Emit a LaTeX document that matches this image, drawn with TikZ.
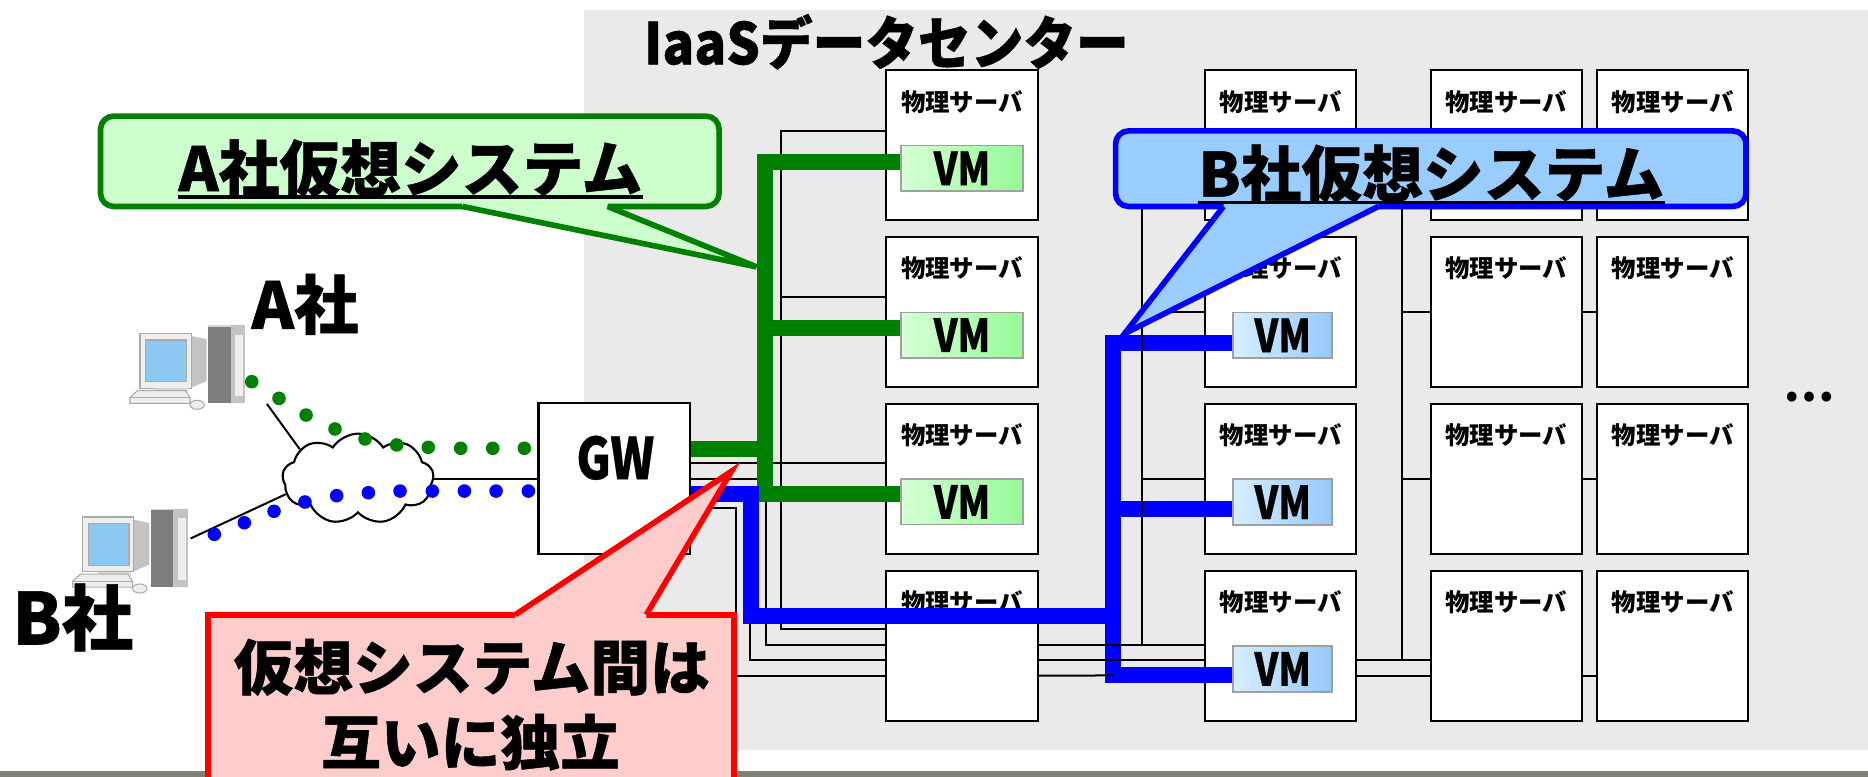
\documentclass[tikz,border=0pt]{standalone}
\usepackage{fontspec}
\setmainfont{Noto Sans CJK JP}
\newfontfamily\narrowfont{Noto Sans CJK JP}[FakeStretch=0.82, FakeBold=0.6]
\newfontfamily\heavyfont{Noto Sans CJK JP}[FakeBold=0.8]
\newfontfamily\titlefont{Noto Sans CJK JP}[FakeStretch=0.92, FakeBold=0.8]
\usetikzlibrary{shapes.symbols,backgrounds}

\newlength\pxl
\setlength\pxl{0.011913cm}

\definecolor{dcgrey}{RGB}{234,234,234}
\definecolor{footgrey}{RGB}{128,128,115}
\definecolor{agreen}{RGB}{0,128,0}
\definecolor{agreenfill}{RGB}{204,255,204}
\definecolor{bblue}{RGB}{0,0,255}
\definecolor{bbluefill}{RGB}{153,204,255}
\definecolor{cred}{RGB}{255,0,0}
\definecolor{credfill}{RGB}{255,204,204}
\definecolor{vmgreenhi}{RGB}{214,255,214}
\definecolor{vmgreenlo}{RGB}{150,250,150}
\definecolor{vmbluehi}{RGB}{214,238,255}
\definecolor{vmbluelo}{RGB}{150,200,250}
\definecolor{vmedge}{RGB}{160,160,160}
\definecolor{pclight}{RGB}{238,238,238}
\definecolor{pcmid}{RGB}{215,215,215}
\definecolor{pcside}{RGB}{195,195,195}
\definecolor{pcdark}{RGB}{125,125,125}
\definecolor{pcedge}{RGB}{170,170,170}
\definecolor{pcscreen}{RGB}{140,200,240}

\tikzset{
  wire/.style={line width=0.57pt},
  abus/.style={line width=4.55pt, agreen},
  bbus/.style={line width=4.55pt, bblue},
  server/.style={draw, line width=0.6pt, fill=white, minimum width=127\pxl, minimum height=126\pxl, inner sep=0pt},
  srvtext/.style={font=\bfseries\fontsize{6.95pt}{8pt}\selectfont, inner sep=0pt},
  vmA/.style={draw=vmedge, line width=0.45pt, left color=vmgreenhi, right color=vmgreenlo,
    minimum width=102\pxl, minimum height=38\pxl, inner sep=0pt,
    font=\narrowfont\bfseries\fontsize{12.9pt}{14pt}\selectfont},
  vmB/.style={vmA, left color=vmbluehi, right color=vmbluelo, minimum width=83\pxl, minimum height=38.5\pxl},
  gwbox/.style={draw, line width=0.6pt, fill=white, minimum width=127\pxl, minimum height=127\pxl, inner sep=0pt},
  gwtext/.style={font=\narrowfont\bfseries\fontsize{16.3pt}{18pt}\selectfont, inner sep=0pt},
  net/.style={cloud, cloud puffs=9, cloud puff arc=115, cloud ignores aspect, draw, line width=0.6pt,
    fill=white, minimum width=127\pxl, minimum height=76\pxl, inner sep=0pt},
  callA/.style={draw=agreen, line width=1.6pt, fill=agreenfill, rounded corners=3.7pt,
    minimum width=519.2\pxl, minimum height=75.8\pxl, inner sep=0pt},
  callB/.style={draw=bblue, line width=1.6pt, fill=bbluefill, rounded corners=3.7pt,
    minimum width=529.2\pxl, minimum height=63.4\pxl, inner sep=0pt},
  callC/.style={draw=cred, line width=1.6pt, fill=credfill,
    minimum width=441.2\pxl, minimum height=184\pxl, inner sep=0pt},
  calltext/.style={font=\heavyfont\bfseries\fontsize{17.3pt}{20pt}\selectfont, inner sep=0pt, anchor=base},
  redtext/.style={font=\heavyfont\bfseries\fontsize{17pt}{20pt}\selectfont, inner sep=0pt, anchor=base},
  firm/.style={inner sep=0pt, anchor=base},
  undl/.style={line width=1.1pt}
}

\begin{document}
\begin{tikzpicture}[x=0.011913cm, y=-0.011913cm]
\useasboundingbox (0,0) rectangle (1568,652);
\clip (0,0) rectangle (1568,652);

\begin{scope}[on background layer]
  % data center floor and footer rule
  \fill[dcgrey] (490,8.4) rectangle (1568,629.6);
  \fill[footgrey] (0,647.5) rectangle (1568,652);
  % cables behind the servers
  \draw[wire] (870.7,109.7) -- (655.3,109.7) -- (655.3,528.2) -- (744,528.2);
  \draw[wire] (655.3,249.6) -- (744,249.6);
  \draw[wire] (579,388.9) -- (744,388.9);
  \draw[wire] (579,402.1) -| (643,541.4) -- (744,541.4);
  \draw[wire] (579,415.1) -| (629.6,554.4) -- (744,554.4);
  \draw[wire] (579,426.8) -| (617.5,567.1) -- (744,567.1);
\end{scope}

% client PCs
\foreach \px/\py in {117.5/272.8, 69.3/427} {
  \begin{scope}[shift={(\px,\py)}]
    \fill[pcside] (42,9) -- (56,12) -- (56,47) -- (42,53) -- cycle;
    \filldraw[fill=pclight, draw=pcedge, line width=0.3pt] (0,7) rectangle (43,53);
    \filldraw[fill=pcscreen, draw=pcedge, line width=0.3pt] (4.8,12.6) rectangle (39,47.6);
    \fill[pcmid] (12.6,53) rectangle (40.6,56);
    \filldraw[fill=pclight, draw=pcedge, line width=0.3pt] (-2,55) -- (38,55) -- (42,61) -- (42,65.8) -- (-8.4,65.8) -- (-8.4,61) -- cycle;
    \draw[pcedge, line width=0.3pt] (-8.4,61) -- (42,61);
    \filldraw[fill=pclight, draw=pcedge, line width=0.3pt] (48,67) ellipse[x radius=6\pxl, y radius=3.8\pxl];
    % tower
    \fill[pcdark] (57.4,1.5) rectangle (76,65.8);
    \fill[pcside] (76,0) rectangle (88.2,65.8);
    \fill[pclight] (80,8) rectangle (86.5,60);
    \fill[pcmid] (57.4,0) rectangle (76,1.5);
  \end{scope}
}

% internet
\node[net] (cloud) at (300.5,402) {};
\coordinate (pcAport) at (224,339);
\coordinate (pcBport) at (160,452);
\draw[wire] (pcAport) -- (cloud.153);
\draw[wire] (pcBport) -- (cloud.192);

% gateway
\node[gwbox] (gw) at (515.5,401.5) {};
\node[gwtext] (gwlabel) at (516.5,384.3) {GW};
\draw[wire] (cloud.east) -- (gw.west |- cloud.east);

% traffic of each company
\foreach \x/\y in {211.3/320.4, 234.2/334.4, 256.9/348.4, 281.2/360.1, 306.4/368.5,
                   333/373.5, 359.5/375.5, 386.7/376.3, 413.6/376.3, 440.1/376.3}
  \fill[agreen] (\x,\y) circle[radius=5.7\pxl];
\foreach \x/\y in {179.9/448.5, 205.1/438.8, 230/429.2, 256/421.4, 282.6/416.1, 309.2/413.6,
                   335.8/412.2, 362.9/412.2, 389.8/412.2, 416.4/412.2, 443.5/412.2}
  \fill[bblue] (\x,\y) circle[radius=5.7\pxl];

% physical servers
\foreach \c/\x in {1/807.5, 2/1075, 3/1264.5, 4/1404.1}
  \foreach \r/\y in {1/122, 2/262, 3/402, 4/542} {
    \node[server] (s\c\r) at (\x,\y) {};
    \node[srvtext] (t\c\r) at (\x,\y-36.5) {物理サーバ};
  }

% virtual machines
\foreach \r/\y in {1/141.3, 2/281.3, 3/421.3}
  \node[vmA] (vmA\r) at (807.5,\y) {VM};
\foreach \r/\y in {2/281.5, 3/421.5, 4/561.5}
  \node[vmB] (vmB\r) at (1076.7,\y) {VM};

% A's virtual network
\coordinate (ajA) at (642,136);
\coordinate (ajC) at (642,415);
\draw[abus] (gw.east |- 0,376.7) -- (ajA |- 0,376.7);
\draw[abus] (vmA1.west |- ajA) -- (ajA) -- (ajC) -- (vmA3.west |- ajC);
\draw[abus] (642,275) -- (vmA2.west |- 0,275);

% B's virtual network
\coordinate (bjA) at (934.6,288);
\coordinate (bjC) at (934.6,567);
\draw[bbus] (gw.east |- 0,414.8) -- (630,414.8) -- (630,516.7) -- (bjA |- 0,516.7);
\draw[bbus] (vmB2.west |- bjA) -- (bjA) -- (bjC) -- (vmB4.west |- bjC);
\draw[bbus] (934.6,427.4) -- (vmB3.west |- 0,427.4);

% cables between the server racks
\draw[wire] (s14.east |- 0,541.4) -- (s24.west |- 0,541.4);
\draw[wire] (s14.east |- 0,554.4) -- (s24.west |- 0,554.4);
\draw[wire] (s14.east |- 0,567.1) -- (bjC);
\draw[wire] (959,150) -- (959,541.4);
\draw[wire] (959,262) -- (s22.west);
\draw[wire] (959,402) -- (s23.west);
\draw[wire] (s24.east |- 0,554.4) -- (s34.west |- 0,554.4);
\draw[wire] (s24.east |- 0,567.1) -- (s34.west |- 0,567.1);
\draw[wire] (1176.5,150) -- (1176.5,554.4);
\draw[wire] (1176.5,262) -- (s32.west);
\draw[wire] (1176.5,402) -- (s33.west);
\draw[wire] (s32.east) -- (s42.west);
\draw[wire] (s33.east) -- (s43.west);
\draw[wire] (s34.east |- 0,567.1) -- (s44.west |- 0,567.1);

% labels
\node[firm, anchor=base west, font=\titlefont\bfseries\fontsize{16.3pt}{18pt}\selectfont] (title) at (540,54) {IaaSデータセンター};
\node[firm, font=\heavyfont\bfseries\fontsize{18.3pt}{20pt}\selectfont] (firmA) at (256,276) {A社};
\node[firm, font=\heavyfont\bfseries\fontsize{20.3pt}{22pt}\selectfont] (firmB) at (61,541) {B社};
\node[font=\bfseries\fontsize{13pt}{14pt}\selectfont, inner sep=0pt] (more) at (1519,333) {…};

% callout: A
\node[callA] (boxA) at (344,135.4) {};
\coordinate (tipA) at (635,224);
\fill[agreenfill] (388,168) -- (388,173.3) -- (tipA) -- (510,173.3) -- (510,168) -- cycle;
\draw[agreen, line width=1.6pt] (388,173.3) -- (tipA) -- (510,173.3);
\node[calltext] (txtA) at (344.5,160.5) {A社仮想システム};
\draw[undl] ([yshift=-1.7pt]txtA.base west) -- ([yshift=-1.7pt]txtA.base east);

% callout: B
\node[callB] (boxB) at (1201,141.6) {};
\coordinate (tipB) at (944,280);
\fill[bbluefill] (1027,168) -- (1027,173.3) -- (tipB) -- (1157,173.3) -- (1157,168) -- cycle;
\draw[bblue, line width=1.6pt] (1027,173.3) -- (tipB) -- (1157,173.3);
\node[calltext] (txtB) at (1201.5,165) {B社仮想システム};
\draw[undl] ([yshift=-1.7pt]txtB.base west) -- ([yshift=-1.7pt]txtB.base east);

% callout: isolation
\node[callC] (boxC) at (395.4,608) {};
\coordinate (tipC) at (614,395.6);
\fill[credfill] (432.5,521) -- (432.5,516) -- (tipC) -- (542.5,516) -- (542.5,521) -- cycle;
\draw[cred, line width=1.6pt] (432.5,516) -- (tipC) -- (542.5,516);
\node[redtext] (txtC1) at (396,579) {仮想システム間は};
\node[redtext] (txtC2) at (395,642) {互いに独立};
\end{tikzpicture}
\end{document}
